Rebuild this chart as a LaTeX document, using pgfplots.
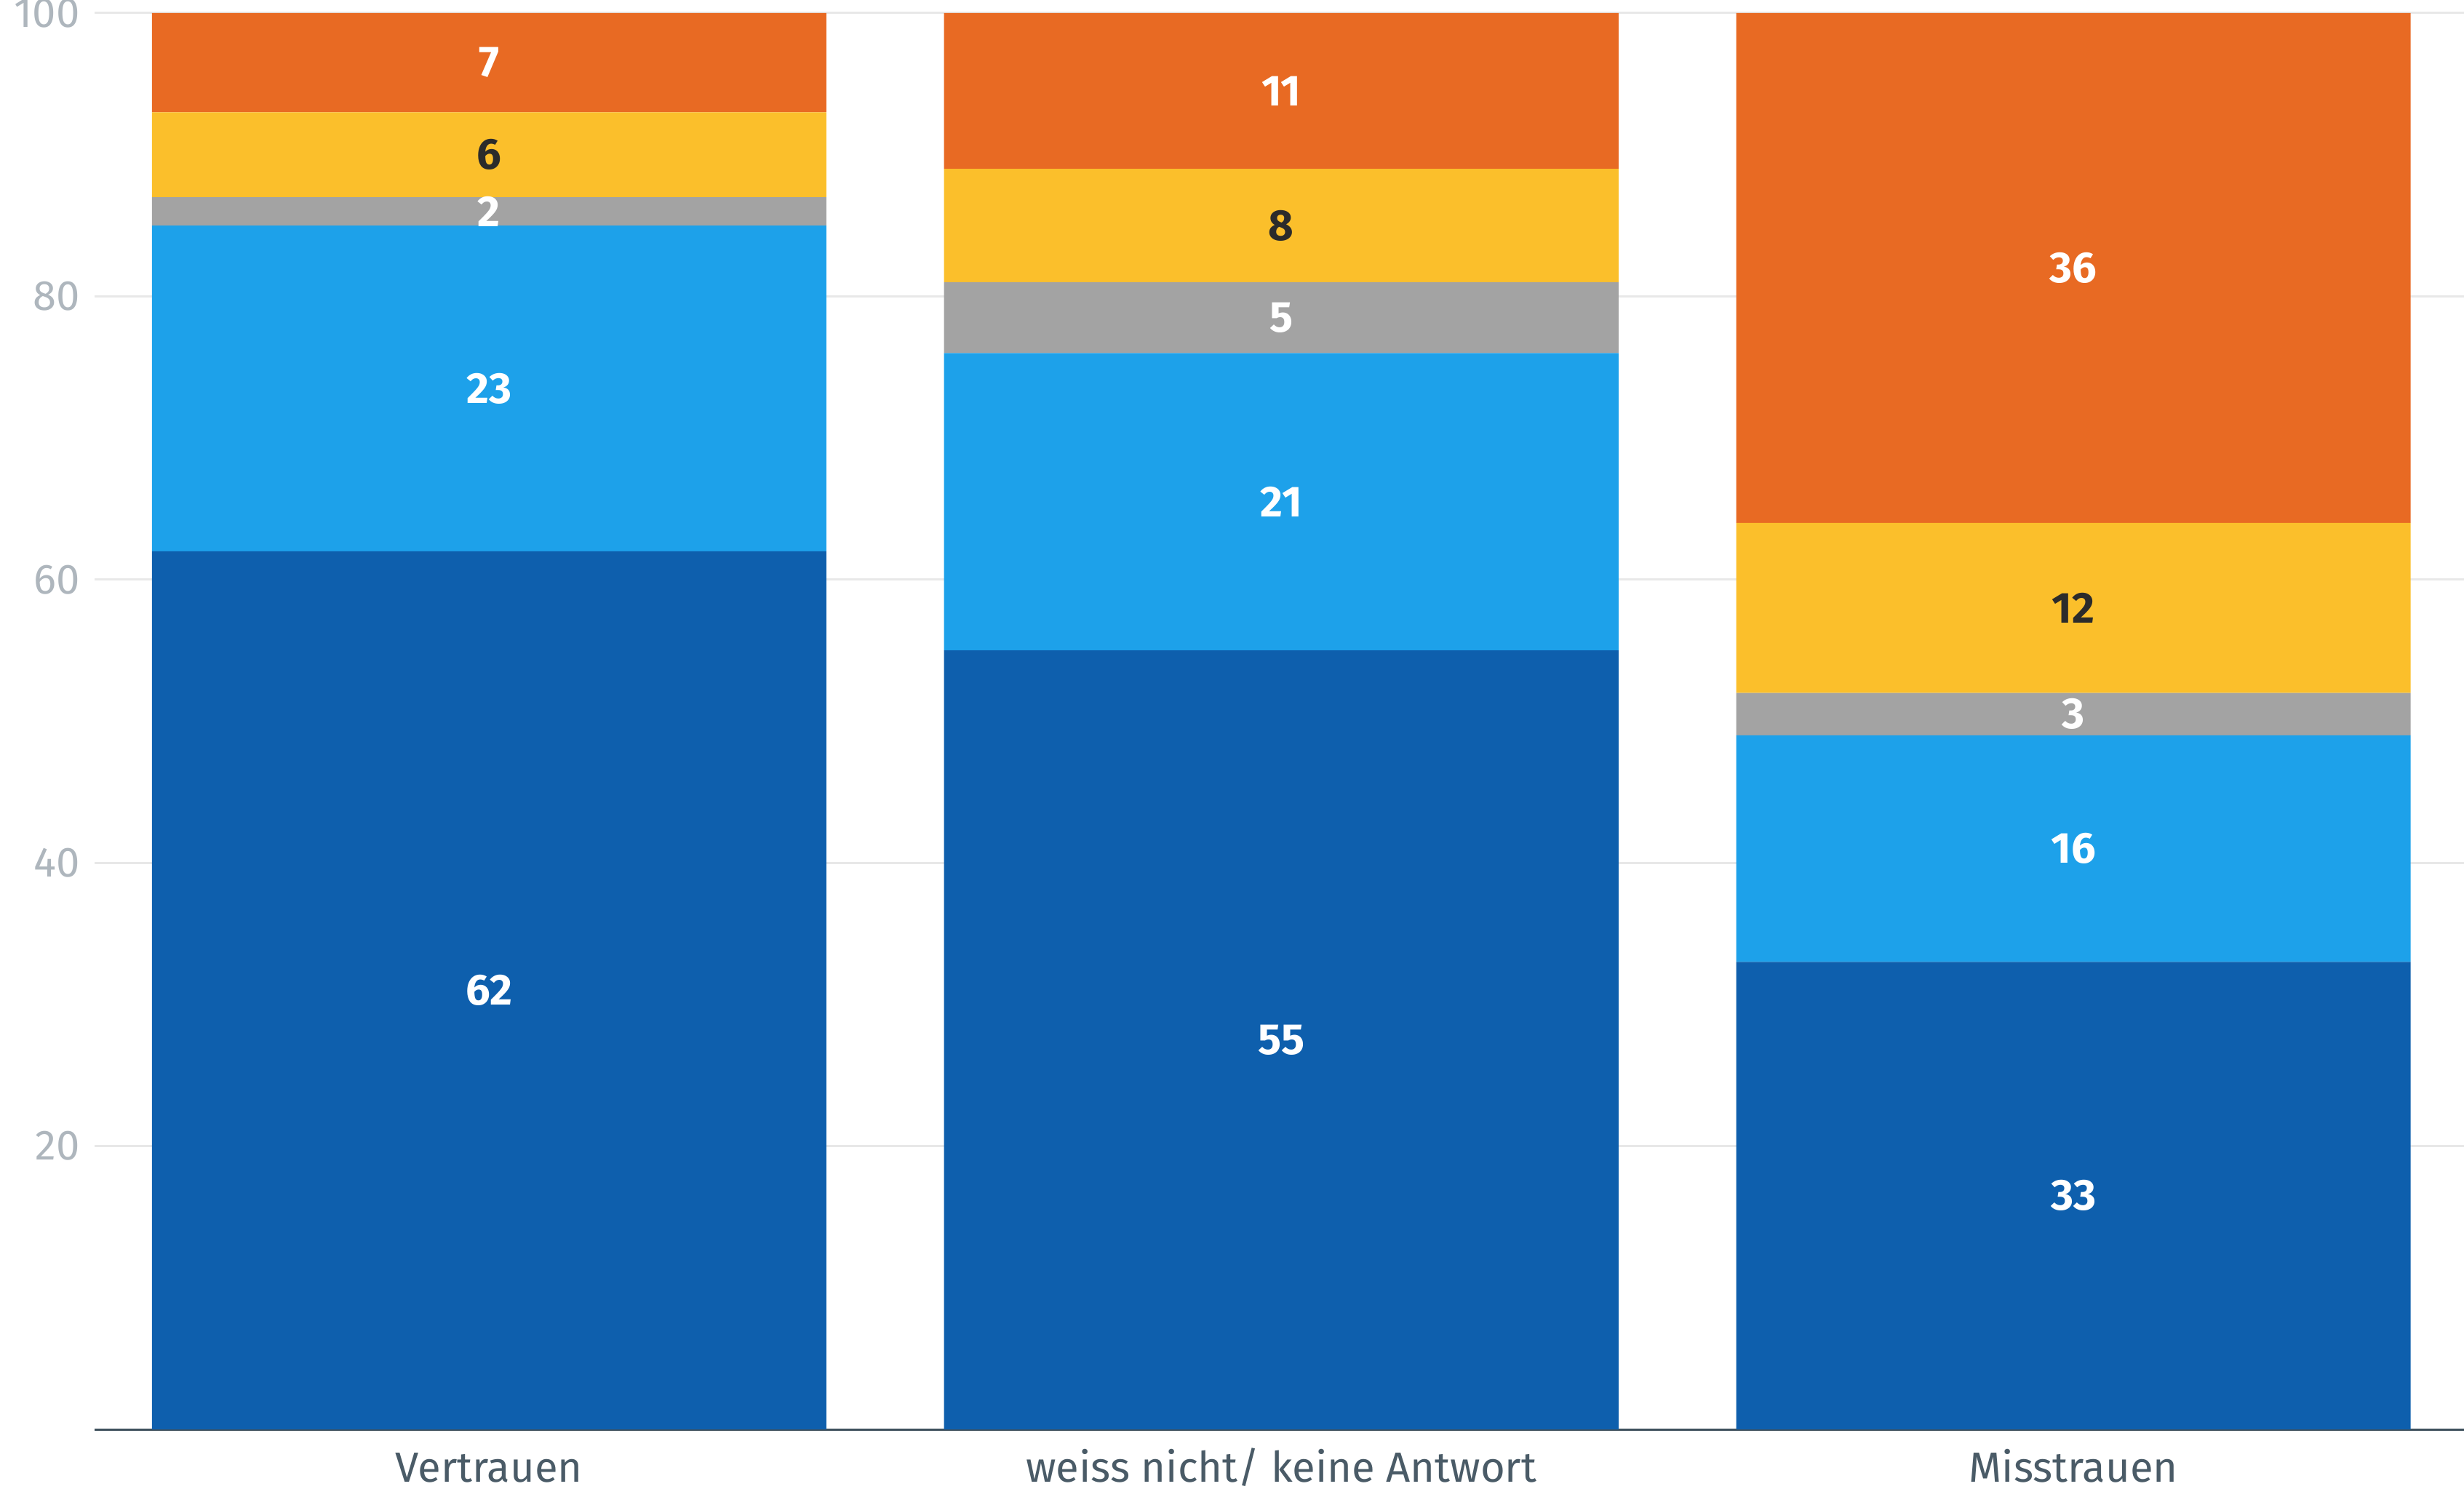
\documentclass[border=0pt]{standalone}
\usepackage{pgfplots}
\pgfplotsset{compat=1.18}
\usepackage{pgfplotstable}
\usepackage{fontspec}
\setmainfont{Fira Sans}
\definecolor{dblue}{HTML}{0E5FAD}
\definecolor{lblue}{HTML}{1DA1EA}
\definecolor{mgray}{HTML}{A3A3A3}
\definecolor{myellow}{HTML}{FBBF2B}
\definecolor{morange}{HTML}{E86A23}
\definecolor{tickgray}{HTML}{AEB6BD}
\definecolor{labgray}{HTML}{4A5B67}
\definecolor{axisdark}{HTML}{3E505C}
\definecolor{gridc}{HTML}{E8E8E8}
\definecolor{darktext}{HTML}{2B2B2B}
\pgfplotstableread{
x a b c d e
0 62 23 2 6 7
1 55 21 5 8 11
2 33 16 3 12 36
}\datatable
\begin{document}
\begin{tikzpicture}
\begin{axis}[
  name=ax,
  scale only axis, width=325.7mm, height=194.7mm,
  ybar stacked, bar width=92.7mm,
  xmin=-0.498, xmax=2.493, ymin=0, ymax=100,
  xtick={0,1,2},
  xticklabels={Vertrauen, weiss nicht/ keine Antwort, Misstrauen},
  ytick={20,40,60,80,100},
  ymajorgrids, grid style={gridc, line width=0.3mm},
  separate axis lines,
  axis x line*=bottom, axis y line*=left,
  x axis line style={axisdark, line width=0.3mm, -},
  y axis line style={draw=none},
  major tick length=0pt,
  /pgf/number format/assume math mode=true,
  yticklabel style={font=\fontsize{16.5}{18}\selectfont, text=tickgray, xshift=-0.8mm},
  xticklabel style={font=\fontsize{16.5}{18}\selectfont, text=labgray, anchor=base, yshift=-7.2mm},
  lbl/.style={nodes near coords, point meta=\thisrow{#1},
    every node near coord/.append style={anchor=center, font=\fontsize{17}{18}\bfseries, text=white}},
]
\addplot[fill=dblue, draw=none, lbl=a] table[x=x, y=a] {\datatable};
\addplot[fill=lblue, draw=none, lbl=b] table[x=x, y=b] {\datatable};
\addplot[fill=mgray, draw=none, lbl=c] table[x=x, y=c] {\datatable};
\addplot[fill=myellow, draw=none, lbl=d, every node near coord/.append style={text=darktext}] table[x=x, y=d] {\datatable};
\addplot[fill=morange, draw=none, lbl=e] table[x=x, y=e] {\datatable};
\end{axis}
\pgfresetboundingbox
\path[use as bounding box] ([shift={(-13mm,-8.1mm)}]ax.south west) rectangle ([shift={(0mm,1.8mm)}]ax.north east);
\end{tikzpicture}
\end{document}
